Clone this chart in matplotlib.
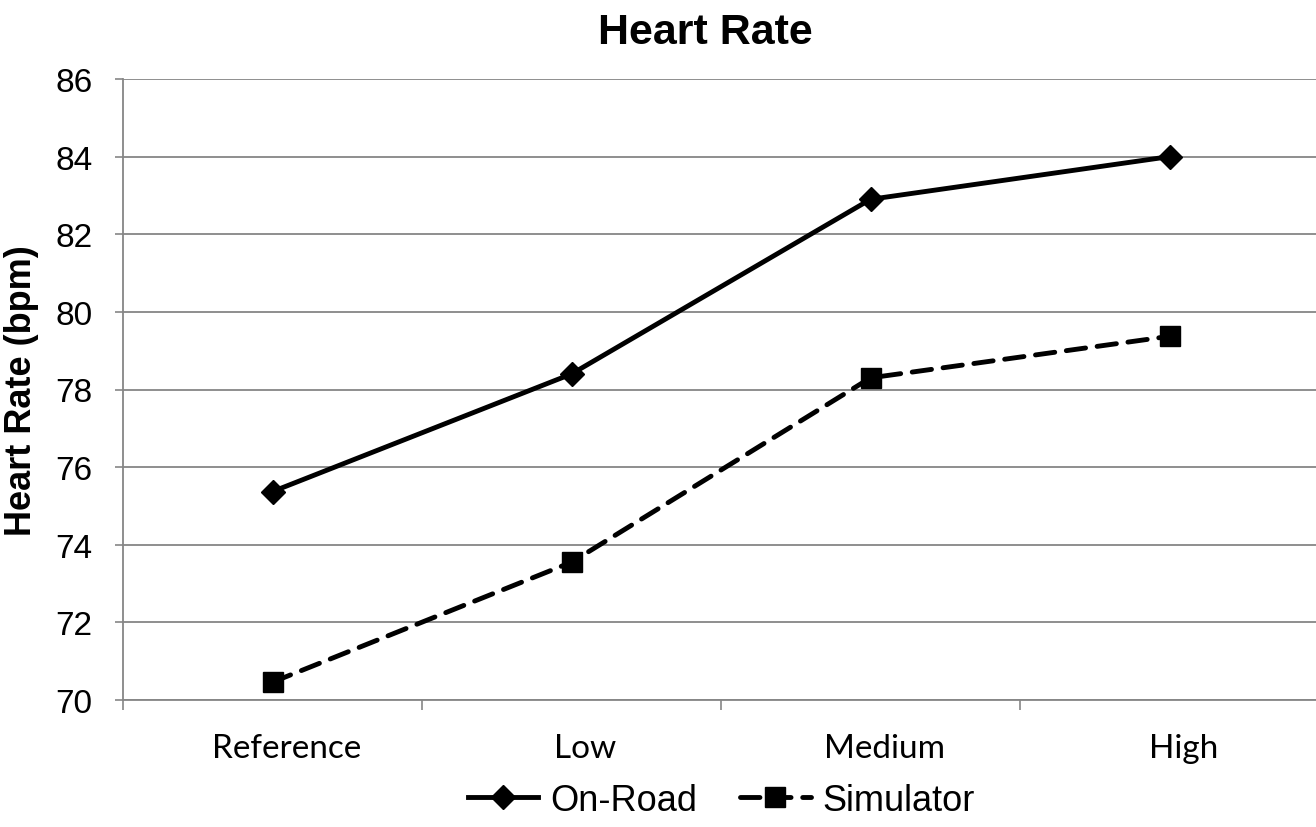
import matplotlib.pyplot as plt
import matplotlib.transforms as mtransforms
import numpy as np

categorias = ["Reference", "Low", "Medium", "High"]
on_road = [75.37, 78.40, 82.90, 84.00]
simulador = [70.46, 73.55, 78.30, 79.37]
yticks = [70, 72, 74, 76, 78, 80, 82, 84, 86]

plt.rcParams['font.family'] = ['Liberation Sans', 'DejaVu Sans']
gris = "#868686"

fig = plt.figure(figsize=(13.16, 8.28), dpi=100)
ax = fig.add_axes([123 / 1316, 1 - 701 / 828, (1319 - 123) / 1316, (701 - 80) / 828])

x = np.arange(len(categorias))
ax.plot(x, on_road, color="black", lw=3.5, marker="D", ms=12.5, label="On-Road",
        solid_joinstyle="round")
ax.plot(x, simulador, color="black", lw=3.5, marker="s", ms=15, label="Simulator",
        dashes=(4, 2.4), dash_capstyle="round")

ax.set_xlim(-0.5, 3.5)
ax.set_ylim(70, 86)
ax.set_yticks(yticks)
ax.set_yticklabels([str(v) for v in yticks], fontsize=24)
ax.tick_params(axis="y", length=6, width=1.2, color=gris, pad=16)

ax.set_xticks(np.arange(-0.5, 4, 1))
ax.set_xticklabels([])
ax.tick_params(axis="x", which="major", length=7, width=1.2, color=gris)
ax.set_xticks(x, minor=True)
ax.set_xticklabels(categorias, minor=True, fontsize=24, family=["Lato", "DejaVu Sans"])
ax.tick_params(axis="x", which="minor", length=0, pad=24)
desplaza = mtransforms.ScaledTranslation(0.14, 0, fig.dpi_scale_trans)
for lab in ax.get_xticklabels(minor=True):
    lab.set_transform(lab.get_transform() + desplaza)

ax.grid(axis="y", color=gris, lw=1.3)
ax.set_axisbelow(True)
for s in ["top", "right"]:
    ax.spines[s].set_visible(False)
for s in ["left", "bottom"]:
    ax.spines[s].set_color(gris)
    ax.spines[s].set_linewidth(1.3)

ax.set_ylabel("Heart Rate (bpm)", fontsize=26, fontweight="bold", labelpad=12)
fig.text(0.536, 0.960, "Heart Rate", fontsize=31, fontweight="bold", ha="center", va="center")

fig.legend(loc="center", bbox_to_anchor=(0.548, 0.032), ncol=2, frameon=False,
           fontsize=26, handlelength=1.95, handletextpad=0.32, columnspacing=1.2)

fig.savefig("out.png", dpi=100)
